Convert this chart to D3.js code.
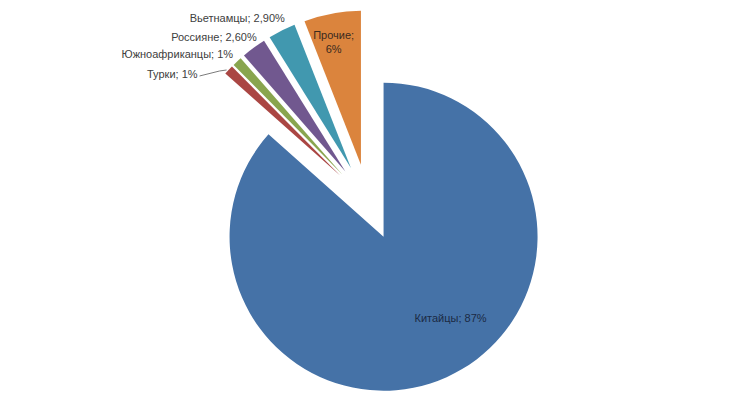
<!DOCTYPE html>
<html>
<head>
<meta charset="utf-8">
<script src="https://cdn.jsdelivr.net/npm/d3@7"></script>
<style>
    body { margin: 0; background: #fff; }
    text { font-family: "Liberation Sans", Arial, sans-serif; font-size: 11px; }
</style>
</head>
<body>
<svg id="chart"></svg>
<script>
// data
const categories = ["Китайцы", "Турки", "Южноафриканцы", "Россияне", "Вьетнамцы", "Прочие"];
const shares = [87, 1, 1, 2.6, 2.9, 6];
const share_labels = ["87%", "1%", "1%", "2,60%", "2,90%", "6%"];
const colors = ["#4572a7", "#aa4643", "#89a54e", "#71588f", "#4198af", "#db843d"];

const width = 750, height = 400;
const cx = 368, cy = 202;
const radius = 154;
const explode = 38;

const svg = d3.select("#chart")
    .attr("width", width)
    .attr("height", height);

const chart = svg.append("g")
    .attr("transform", `translate(${cx}, ${cy})`);

const pie = d3.pie()
    .sort(null)
    .value(d => d.value);

const arcs = pie(categories.map((c, i) => ({ name: c, value: shares[i], label: share_labels[i], color: colors[i] })));

const arc = d3.arc()
    .innerRadius(0)
    .outerRadius(radius);

const mid = d => (d.startAngle + d.endAngle) / 2;
const offset = (d, r) => [Math.sin(mid(d)) * r, -Math.cos(mid(d)) * r];

// slices, all pulled out from the centre
chart.selectAll("path")
    .data(arcs)
    .join("path")
    .attr("d", arc)
    .attr("fill", d => d.data.color)
    .attr("transform", d => `translate(${offset(d, explode)})`);

// outside labels (small slices), shifted from the slice's outer point
const label_shift = { 1: [-31, 8], 2: [-4, -3.5], 3: [3, -6.5], 4: [3, -8.5] };

Object.keys(label_shift).forEach(k => {
    const d = arcs[+k];
    const o = offset(d, explode + radius);
    const s = label_shift[k];
    const tx = o[0] + s[0], ty = o[1] + s[1];
    chart.append("text")
        .attr("x", tx)
        .attr("y", ty)
        .attr("text-anchor", "end")
        .attr("fill", "#404040")
        .text(`${d.data.name}; ${d.data.label}`);
    if (Math.abs(s[0]) > 10) {
        chart.append("polyline")
            .attr("points", [[tx + 2, ty - 2], [tx + 22, ty - 7], [o[0] - 2, o[1]]].join(" "))
            .attr("fill", "none")
            .attr("stroke", "#595959")
            .attr("stroke-width", 0.8);
    }
});

// label inside "Прочие"
{
    const d = arcs[5];
    const p = offset(d, explode);
    const a = mid(d) - 0.03;
    const r = radius * 0.82;
    const x = p[0] + Math.sin(a) * r, y = p[1] - Math.cos(a) * r;
    const t = chart.append("text")
        .attr("text-anchor", "middle")
        .attr("fill", "#3a2a1e");
    t.append("tspan").attr("x", x).attr("y", y - 2).text(`${d.data.name};`);
    t.append("tspan").attr("x", x).attr("y", y + 12).text(d.data.label);
}

// label inside "Китайцы"
{
    const d = arcs[0];
    const p = offset(d, explode);
    const a = mid(d) - 0.27;
    const r = 105;
    chart.append("text")
        .attr("x", p[0] + Math.sin(a) * r)
        .attr("y", p[1] - Math.cos(a) * r + 4)
        .attr("text-anchor", "middle")
        .attr("fill", "#1b2a44")
        .text(`${d.data.name}; ${d.data.label}`);
}
</script>
</body>
</html>
